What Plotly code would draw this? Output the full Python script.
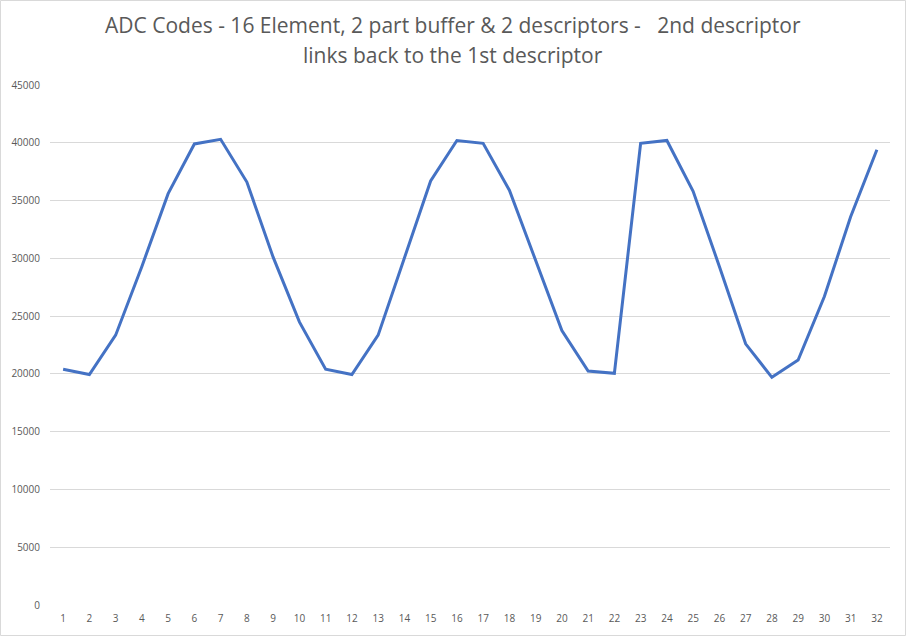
import plotly.graph_objects as go

samples = list(range(1, 33))
adc_codes = [20400, 19950, 23350, 29300, 35600, 39900, 40300, 36600,
             30100, 24500, 20400, 19950, 23350, 30000, 36700, 40200,
             39950, 35900, 29900, 23750, 20250, 20050, 39950, 40200,
             35800, 29300, 22600, 19700, 21200, 26700, 33600, 39400]
y_ticks = list(range(0, 45001, 5000))
title_line1 = "ADC Codes - 16 Element, 2 part buffer & 2 descriptors -   2nd descriptor"
title_line2 = "links back to the 1st descriptor"

W, H = 906, 636
ml, mr, mt, mb = 50, 16, 85, 31
pw, ph = W - ml - mr, H - mt - mb

fig = go.Figure()
fig.add_trace(go.Scatter(
    x=samples, y=adc_codes, mode="lines",
    line=dict(color="#4472C4", width=3),
    hoverinfo="x+y", showlegend=False,
))

font_family = "Open Sans, Noto Sans, sans-serif"

fig.update_layout(
    width=W, height=H,
    margin=dict(l=ml, r=mr, t=mt, b=mb),
    paper_bgcolor="white", plot_bgcolor="white",
    font=dict(family=font_family, color="#595959", size=10),
    xaxis=dict(
        range=[0.5, 32.5], tickmode="array", tickvals=samples,
        ticktext=[str(s) for s in samples],
        showgrid=False, zeroline=False, showline=False,
        ticks="", tickfont=dict(size=10, color="#595959"),
        ticklabelstandoff=6,
    ),
    yaxis=dict(
        range=[0, 45000], tickmode="array", tickvals=y_ticks,
        ticktext=[str(v) for v in y_ticks],
        showgrid=True, gridcolor="#D9D9D9", gridwidth=1,
        zeroline=False, showline=False, ticks="",
        tickfont=dict(size=10, color="#595959"),
        ticklabelstandoff=9,
    ),
    shapes=[dict(type="rect", xref="paper", yref="paper",
                 x0=(0.5 - ml) / pw, x1=(W - 0.5 - ml) / pw,
                 y0=-(mb - 0.5) / ph, y1=(H - 0.5 - mb) / ph,
                 line=dict(color="#D9D9D9", width=1), layer="below")],
)

for text, ypix in [(title_line1, 25), (title_line2, 55)]:
    fig.add_annotation(
        text=text, xref="paper", yref="paper",
        x=(W / 2 - ml) / pw, y=(H - mb - ypix) / ph,
        xanchor="center", yanchor="middle", showarrow=False,
        font=dict(size=21, color="#595959", family=font_family),
    )

fig.write_html("out.html", config={"displayModeBar": False},
               post_script="document.body.style.margin='0';")
